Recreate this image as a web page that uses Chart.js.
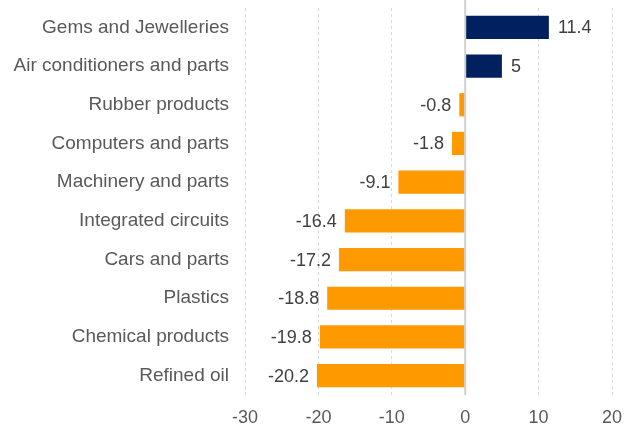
<!DOCTYPE html>
<html>
<head>
<meta charset="utf-8">
<script src="https://cdn.jsdelivr.net/npm/chart.js@4/dist/chart.umd.min.js"></script>
<style>
  html, body { margin: 0; padding: 0; background: #fff; }
  #wrap { width: 635px; height: 432px; }
</style>
</head>
<body>
<div id="wrap"><canvas id="grafico"></canvas></div>
<script>
var categorias = [
    'Gems and Jewelleries',
    'Air conditioners and parts',
    'Rubber products',
    'Computers and parts',
    'Machinery and parts',
    'Integrated circuits',
    'Cars and parts',
    'Plastics',
    'Chemical products',
    'Refined oil'
];
var valores = [11.4, 5, -0.8, -1.8, -9.1, -16.4, -17.2, -18.8, -19.8, -20.2];
var ticksX = [-30, -20, -10, 0, 10, 20];

var corPositivo = '#00205f';
var corNegativo = '#ff9900';
var fonte = '"Liberation Sans", Arial, sans-serif';

// rotulos de valor na ponta de cada barra + linha do zero
var rotulosPlugin = {
    id: 'rotulos',
    afterDatasetsDraw: function(chart) {
        var ctx = chart.ctx;
        var xs = chart.scales.x;
        var area = chart.chartArea;
        var x0 = xs.getPixelForValue(0);
        ctx.save();
        ctx.strokeStyle = '#d0d0d0';
        ctx.lineWidth = 2;
        ctx.beginPath();
        ctx.moveTo(x0, 0);
        ctx.lineTo(x0, area.bottom);
        ctx.stroke();

        ctx.font = '18px ' + fonte;
        ctx.fillStyle = '#404040';
        ctx.textBaseline = 'middle';
        chart.getDatasetMeta(0).data.forEach(function(bar, i) {
            var v = valores[i];
            if (v >= 0) {
                ctx.textAlign = 'left';
                ctx.fillText(String(v), bar.x + 9, bar.y + 1);
            } else {
                ctx.textAlign = 'right';
                ctx.fillText(String(v), bar.x - 8, bar.y + 1);
            }
        });
        ctx.restore();
    }
};

var config = {
    type: 'bar',
    data: {
        labels: categorias,
        datasets: [{
            data: valores,
            backgroundColor: valores.map(function(v) { return v >= 0 ? corPositivo : corNegativo; }),
            categoryPercentage: 1,
            barPercentage: 0.6,
            borderWidth: 0
        }]
    },
    options: {
        indexAxis: 'y',
        responsive: true,
        maintainAspectRatio: false,
        animation: false,
        layout: {
            padding: { left: 0, right: 23, top: 8, bottom: 0 }
        },
        plugins: {
            legend: { display: false },
            tooltip: { enabled: false }
        },
        scales: {
            x: {
                min: -30,
                max: 20,
                afterBuildTicks: function(scale) {
                    scale.ticks = ticksX.map(function(t) { return { value: t }; });
                },
                afterFit: function(scale) {
                    scale.height = 37;
                    scale.paddingLeft = 0;
                    scale.paddingRight = 0;
                },
                grid: {
                    color: function(c) { return c.tick && c.tick.value === 0 ? 'rgba(0,0,0,0)' : '#d9d9d9'; },
                    lineWidth: 1,
                    drawTicks: false
                },
                border: { display: false, dash: [3, 3] },
                ticks: {
                    color: '#595959',
                    font: { family: fonte, size: 18 },
                    padding: 12
                }
            },
            y: {
                afterFit: function(scale) {
                    scale.width = 245;
                    scale.paddingTop = 0;
                    scale.paddingBottom = 0;
                },
                grid: { display: false, drawTicks: false },
                border: { display: false },
                ticks: {
                    color: '#595959',
                    font: { family: fonte, size: 19 },
                    padding: 16
                }
            }
        }
    },
    plugins: [rotulosPlugin]
};

window.onload = function() {
    var ctx = document.getElementById('grafico').getContext('2d');
    window.meuGrafico = new Chart(ctx, config);
};
</script>
</body>
</html>
